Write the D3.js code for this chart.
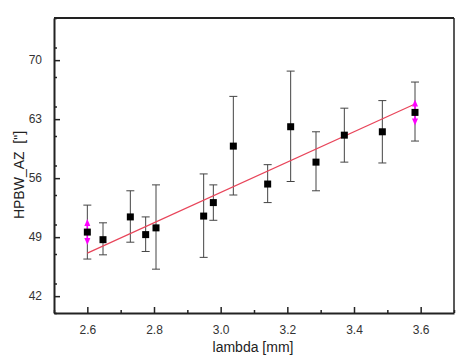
<!DOCTYPE html>
<html lang="en">
<head>
<meta charset="UTF-8">
<title>HPBW_AZ vs lambda</title>
<style>
  body { margin: 0; padding: 0; background: #fff; font-family: Arial, "Liberation Sans", sans-serif; }
  svg { display: block; }
</style>
</head>
<body>
<svg id="chart" width="468" height="363"></svg>
<script src="https://cdnjs.cloudflare.com/ajax/libs/d3/7.9.0/d3.min.js"></script>
<script>
// measured points
const lambda = [2.600, 2.647, 2.729, 2.775, 2.806, 2.949, 2.978, 3.038, 3.141, 3.210, 3.286, 3.371, 3.485, 3.583];
const hpbw   = [49.6, 48.7, 51.4, 49.3, 50.1, 51.5, 53.1, 59.8, 55.3, 62.1, 57.9, 61.1, 61.5, 63.8];
const errTop = [52.8, 50.7, 54.5, 51.4, 55.2, 56.5, 55.2, 65.7, 57.6, 68.7, 61.5, 64.3, 65.2, 67.4];
const errBot = [46.4, 46.9, 48.4, 47.3, 45.2, 46.6, 51.0, 54.0, 53.1, 55.6, 54.5, 57.9, 57.8, 60.4];
// linear fit end points
const fitX = [2.600, 3.583];
const fitY = [47.1, 64.8];
// points flagged with magenta arrows (index)
const flagged = [0, 13];

const xTicks = [2.6, 2.8, 3.0, 3.2, 3.4, 3.6];
const yTicks = [42, 49, 56, 63, 70];

const svg = d3.select('#chart');
const plotL = 54, plotR = 454, plotT = 18, plotB = 313;

const x = d3.scaleLinear().domain([2.5, 3.7]).range([plotL, plotR]);
const y = d3.scaleLinear().domain([40, 75]).range([plotB, plotT]);

// frame
svg.append('line').attr('x1', plotL).attr('x2', plotR).attr('y1', plotT).attr('y2', plotT)
  .attr('stroke', '#222').attr('stroke-width', 2);
svg.append('line').attr('x1', plotR).attr('x2', plotR).attr('y1', plotT).attr('y2', plotB)
  .attr('stroke', '#222').attr('stroke-width', 1.5);

// x axis, ticks pointing inward
const xMinor = d3.range(2.5, 3.71, 0.1).filter(v => !xTicks.some(t => Math.abs(t - v) < 1e-6));
svg.append('g').attr('transform', `translate(0,${plotB})`)
  .call(d3.axisTop(x).tickValues(xMinor).tickSize(3).tickFormat(''))
  .call(g => g.select('.domain').remove())
  .call(g => g.selectAll('line').attr('stroke', '#222').attr('stroke-width', 1.5));
const xAxis = svg.append('g').attr('transform', `translate(0,${plotB})`)
  .call(d3.axisBottom(x).tickValues(xTicks).tickSizeInner(-6).tickSizeOuter(0).tickPadding(12).tickFormat(d3.format('.1f')));
xAxis.select('.domain').attr('stroke', '#222').attr('stroke-width', 2);
xAxis.selectAll('line').attr('stroke', '#222').attr('stroke-width', 1.5);
xAxis.selectAll('text').attr('font-size', 12).attr('fill', '#333').attr('font-family', 'Arial, "Liberation Sans", sans-serif');

// y axis
const yMinor = d3.range(40, 75.1, 3.5).filter(v => !yTicks.some(t => Math.abs(t - v) < 1e-6));
svg.append('g').attr('transform', `translate(${plotL},0)`)
  .call(d3.axisRight(y).tickValues(yMinor).tickSize(3).tickFormat(''))
  .call(g => g.select('.domain').remove())
  .call(g => g.selectAll('line').attr('stroke', '#222').attr('stroke-width', 1.5));
const yAxis = svg.append('g').attr('transform', `translate(${plotL},0)`)
  .call(d3.axisLeft(y).tickValues(yTicks).tickSizeInner(-6).tickSizeOuter(0).tickPadding(12));
yAxis.select('.domain').attr('stroke', '#222').attr('stroke-width', 2);
yAxis.selectAll('line').attr('stroke', '#222').attr('stroke-width', 1.5);
yAxis.selectAll('text').attr('font-size', 12).attr('fill', '#333').attr('font-family', 'Arial, "Liberation Sans", sans-serif');

// axis titles
svg.append('text').attr('x', 253).attr('y', 352).attr('text-anchor', 'middle')
  .attr('font-size', 14).attr('fill', '#222').text('lambda [mm]');
svg.append('text').attr('transform', 'translate(24,175) rotate(-90)').attr('text-anchor', 'middle')
  .attr('font-size', 14).attr('fill', '#222').style('white-space', 'pre').text('HPBW_AZ  ["]');

// error bars
const data = lambda.map((l, i) => ({ l, v: hpbw[i], t: errTop[i], b: errBot[i], i }));
const eb = svg.append('g').attr('stroke', '#444').attr('stroke-width', 1);
data.forEach(d => {
  const cx = x(d.l);
  eb.append('line').attr('x1', cx).attr('x2', cx).attr('y1', y(d.t)).attr('y2', y(d.b));
  eb.append('line').attr('x1', cx - 4).attr('x2', cx + 4).attr('y1', y(d.t)).attr('y2', y(d.t));
  eb.append('line').attr('x1', cx - 4).attr('x2', cx + 4).attr('y1', y(d.b)).attr('y2', y(d.b));
});

// fit line
svg.append('line')
  .attr('x1', x(fitX[0])).attr('y1', y(fitY[0]))
  .attr('x2', x(fitX[1])).attr('y2', y(fitY[1]))
  .attr('stroke', '#e8455a').attr('stroke-width', 1.2);

// magenta arrows
flagged.forEach(i => {
  const cx = x(lambda[i]), cy = y(hpbw[i]);
  const g = svg.append('g').attr('fill', '#ff00ff').attr('stroke', '#ff00ff');
  g.append('line').attr('x1', cx).attr('x2', cx).attr('y1', cy - 10).attr('y2', cy + 10).attr('stroke-width', 1.5);
  g.append('path').attr('d', `M${cx},${cy - 13} L${cx - 3},${cy - 6} L${cx + 3},${cy - 6} Z`).attr('stroke', 'none');
  g.append('path').attr('d', `M${cx},${cy + 13} L${cx - 3},${cy + 6} L${cx + 3},${cy + 6} Z`).attr('stroke', 'none');
});

// markers
svg.append('g').selectAll('rect').data(data).enter().append('rect')
  .attr('x', d => x(d.l) - 3.5).attr('y', d => y(d.v) - 3.5)
  .attr('width', 7).attr('height', 7).attr('fill', '#000');
</script>
</body>
</html>
